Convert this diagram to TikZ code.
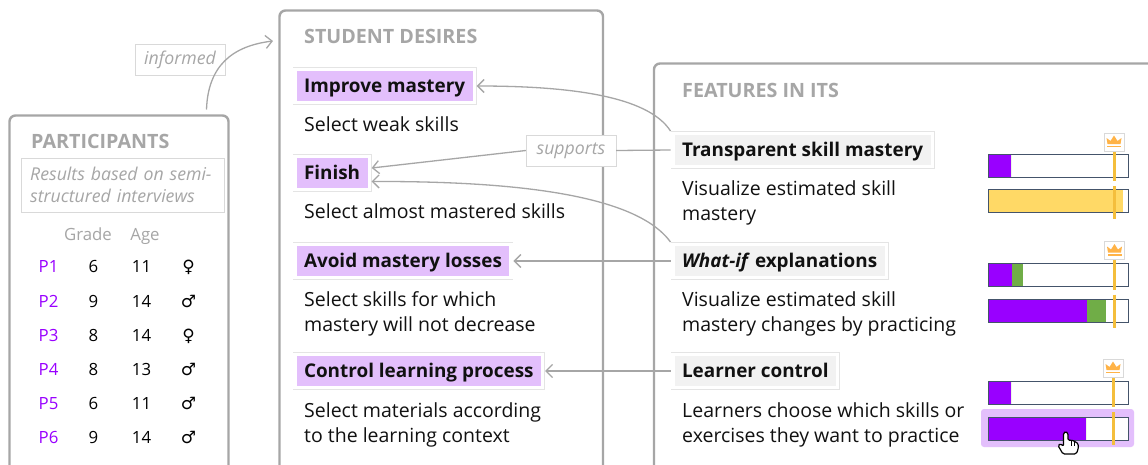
\documentclass[tikz,border=0pt]{standalone}
\usepackage{fontspec}
\setmainfont{Open Sans}
\newfontfamily\symbolfont{DejaVu Sans}
\usetikzlibrary{arrows.meta,positioning}
\definecolor{panelgray}{HTML}{A6A6A6}
\definecolor{frameline}{HTML}{D9D9D9}
\definecolor{chipline}{HTML}{E4E4E4}
\definecolor{lilac}{HTML}{E3BFFC}
\definecolor{chipgray}{HTML}{F2F2F2}
\definecolor{vivid}{HTML}{9900FF}
\definecolor{leafgreen}{HTML}{70AD47}
\definecolor{sand}{HTML}{FFD966}
\definecolor{marker}{HTML}{F4BE3C}
\definecolor{crown}{HTML}{FFB347}
\definecolor{barline}{HTML}{44546A}
\definecolor{inkblack}{HTML}{111111}

\begin{document}
\begin{tikzpicture}[
		x=1pt, y=-1pt,
		>={Straight Barb[length=6.5pt,width=13pt]},
		font=\fontsize{19.5}{25}\selectfont,
		panel/.style={
			rectangle,
			rounded corners=6pt,
			draw=panelgray,
			line width=2.4pt,
			fill=white,
			outer sep=0pt,
			anchor=north west
		},
		heading/.style={
			anchor=west,
			inner sep=0pt,
			text=panelgray,
			font=\fontsize{19.7}{22}\selectfont\bfseries
		},
		note/.style={
			draw=frameline,
			text=panelgray,
			inner sep=0pt,
			font=\fontsize{17.7}{22}\selectfont\itshape
		},
		chip/.style={
			anchor=west,
			inner xsep=7.5pt,
			inner ysep=0pt,
			text height=17.5pt,
			text depth=4.5pt,
			minimum height=30pt,
			outer sep=4pt,
			text=inkblack,
			font=\fontsize{18.9}{22}\selectfont\bfseries,
			preaction={draw=chipline,line width=8pt},
			preaction={draw=white,line width=6.5pt}
		},
		desire/.style={chip, fill=lilac},
		feature/.style={chip, fill=chipgray},
		detail/.style={
			anchor=north west,
			inner sep=0pt,
			align=left,
			text=inkblack
		},
		cell/.style={inner sep=0pt, text height=12pt, text depth=0pt, font=\fontsize{16.8}{18}\selectfont},
		link/.style={draw=panelgray, line width=1.3pt},
		barframe/.style={draw=barline, line width=1pt}
		]
		\useasboundingbox (0,0) rectangle (1148,464);
		\clip (0,0) rectangle (1148,464);
		
		% We start by placing the panels
		\node [panel, minimum width=219pt, minimum height=360pt] (participants) at (9.5,115.5) {};
		\node [panel, minimum width=323.5pt, minimum height=470pt] (desires) at (279.5,10.5) {};
		\node [panel, minimum width=520pt, minimum height=420pt] (features) at (654,63.5) {};
		
		\node [heading] (participantstitle) at (31,141) {PARTICIPANTS};
		\node [heading] (desirestitle) at (304,36) {STUDENT DESIRES};
		\node [heading] (featurestitle) at (682,90) {FEATURES IN ITS};
		
		% participants table
		\node [note, minimum width=203pt, minimum height=54pt, anchor=north west, align=left, text width=185pt, inner xsep=9pt] (interviews) at (21,157.5)
		{Results based on semi-\\structured interviews};
		\node [cell, text=panelgray] (gradehead) at (88,234) {Grade};
		\node [cell, text=panelgray] (agehead) at (145,234) {Age};
		\foreach \pname/\pgrade/\page/\psym/\ypos in {
			P1/6/11/♀/266, P2/9/14/♂/301, P3/8/14/♀/335,
			P4/8/13/♂/369, P5/6/11/♂/403, P6/9/14/♂/437} {
			\node [cell, text=vivid] (\pname) at (48.5,\ypos) {\pname};
			\node [cell] (\pname grade) at (93.5,\ypos) {\pgrade};
			\node [cell] (\pname age) at (141.5,\ypos) {\page};
			\node [cell, font=\fontsize{17}{18}\selectfont\symbolfont] (\pname sym) at (188.5,\ypos) {\psym};
		}
		
		% student desires
		\node [desire] (improve) at (292.5,86) {Improve mastery};
		\node [desire] (finish) at (292.5,173) {Finish};
		\node [desire] (avoid) at (292.5,261) {Avoid mastery losses};
		\node [desire] (control) at (292.5,371) {Control learning process};
		
		\node [detail] (improvetext) at (304,116.5) {Select weak skills};
		\node [detail] (finishtext) at (304,203.5) {Select almost mastered skills};
		\node [detail] (avoidtext) at (304,291.5) {Select skills for which\\mastery will not decrease};
		\node [detail] (controltext) at (304,402.5) {Select materials according\\to the learning context};
		
		% features
		\node [feature] (transparent) at (670.5,150) {Transparent skill mastery};
		\node [feature] (whatif) at (670.5,261) {\textit{What-if} explanations};
		\node [feature] (learner) at (670.5,371) {Learner control};
		
		\node [detail] (transparenttext) at (682,180.5) {Visualize estimated skill\\mastery};
		\node [detail] (whatiftext) at (682,291.5) {Visualize estimated skill\\mastery changes by practicing};
		\node [detail] (learnertext) at (682,402.5) {Learners choose which skills or\\exercises they want to practice};
		
		% connectors
		\coordinate (informedend) at (273,41);
		\node [note, minimum width=90pt, minimum height=31pt] (informed) at (180,60) {informed};
		\draw [link,->] ([xshift=87.5pt,yshift=6pt]participants.north) .. controls (208,66) and (232,46) .. (informedend);
		
		\draw [link,->] (transparent.north west) .. controls (648,96) and (570,86) .. (improve.east);
		\node [note, fill=white, minimum width=90pt, minimum height=31pt] (supports) at (571,150.5) {supports};
		\draw [link] (transparent.west) -- (supports.east);
		\draw [link,->] (supports.west) -- ([yshift=5pt]finish.east);
		\draw [link,->] (whatif.north west) .. controls (640,200) and (540,181) .. ([yshift=-8.5pt]finish.east);
		\draw [link,->] (whatif.west) -- (avoid.east);
		\draw [link,->] (learner.west) -- (control.east);
		
		% mastery bars
		\fill [lilac, rounded corners=3pt] (981,409) rectangle (1134,447);
		\foreach \ytop/\first/\second in {
			154/1011/1011, 263/1012/1023,
			299/1087/1106, 381/1011/1011, 417/1086/1086} {
			\fill [white] (988,\ytop) rectangle (1128,\ytop+23);
			\fill [vivid] (988,\ytop) rectangle (\first,\ytop+23);
			\fill [leafgreen] (\first,\ytop) rectangle (\second,\ytop+23);
			\draw [barframe] (988,\ytop) rectangle (1128,\ytop+23);
		}
		\fill [white] (988,189) rectangle (1128,212);
		\fill [sand] (988,189) rectangle (1123,212);
		\draw [barframe] (988,189) rectangle (1128,212);
		
		% target marker and crown on each group
		\foreach \crownx/\crowny/\groupname in {1114/142/top, 1114.5/250.5/middle, 1113/368/bottom} {
			\draw [marker, line width=3pt] (\crownx,\crowny+7) -- (\crownx,\crowny+39);
			\draw [marker, line width=3pt] (\crownx,\crowny+44) -- (\crownx,\crowny+77);
			\node [draw=frameline, fill=white, minimum width=20pt, minimum height=18pt, inner sep=0pt] (crown\groupname) at (\crownx,\crowny) {};
			\begin{scope}[shift={(\crownx,\crowny)}]
				\fill [crown] (-7.5,-4) -- (-3.5,-1) -- (0,-6.5) -- (3.5,-1) -- (7.5,-4) -- (6.5,2) -- (-6.5,2) -- cycle;
				\fill [crown] (-7,3.5) rectangle (7,5);
			\end{scope}
		}
		
		% hand cursor on the last bar
		\draw [black, fill=white, line width=1.2pt, rounded corners=1.5pt, line join=round]
			(1063,454) -- (1058,445.5) -- (1060.5,443.5) -- (1063.5,446.5) -- (1063.5,433)
			-- (1065.5,431.5) -- (1068,433) -- (1068,440.5) -- (1071.5,440) -- (1075,441.5)
			-- (1078.5,444) -- (1078,450) -- (1076,454) -- cycle;
		\draw [black, line width=0.9pt] (1071,441) -- (1071,446) (1074.5,442) -- (1074.5,446);
		
		\end{tikzpicture}
\end{document}
